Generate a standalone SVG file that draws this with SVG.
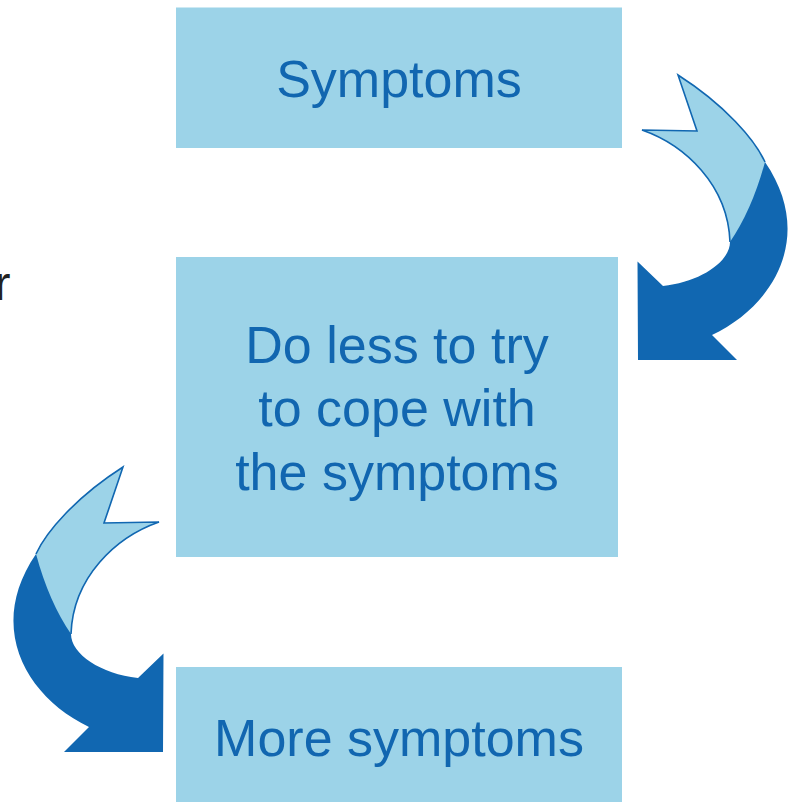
<svg xmlns="http://www.w3.org/2000/svg" width="796" height="802" viewBox="0 0 796 802">
<style>
.box{fill:#9cd3e8;}
.lbl{font-family:"Liberation Sans",Arial,sans-serif;font-size:52px;fill:#1166b0;text-anchor:middle;}
.dark{fill:#1167b1;}
.light{fill:#9cd3e8;}
.edge{fill:none;stroke:#1167b1;stroke-width:1.6;stroke-linejoin:miter;}
</style>
<defs>
<g id="curvedArrow">
<path class="dark" d="M678,75 L697,131 L642,130 C685,145 728,185 730,242 C730,262 700,282 663,286 L637.5,261.5 L638,360 L737,360 L712,335 C775,305 815,235 765,162 C755,140 725,105 678,75 Z"/>
<path class="light" d="M765,162 Q752,210 730,242 C728,185 685,145 642,130 L697,131 L678,75 C725,105 755,140 765,162 Z"/>
<path class="edge" d="M765,162 C755,140 725,105 678,75 L697,131 L642,130 C685,145 728,185 730,242"/>
</g>
</defs>
<text x="-5.5" y="300" font-family="Liberation Sans, Arial, sans-serif" font-size="48" fill="#222222">r</text>
<g id="node-symptoms">
<rect class="box" x="176" y="7.5" width="446" height="140.5"/>
<text class="lbl" x="399" y="97">Symptoms</text>
</g>
<g id="node-do-less">
<rect class="box" x="176" y="257" width="442" height="300"/>
<text class="lbl" x="397" y="362.5">Do less to try</text>
<text class="lbl" x="397" y="426">to cope with</text>
<text class="lbl" x="397" y="489.5">the symptoms</text>
</g>
<g id="node-more-symptoms">
<rect class="box" x="176" y="667" width="446" height="135"/>
<text class="lbl" x="399" y="756">More symptoms</text>
</g>
<g id="connectors">
<use href="#curvedArrow"/>
<use href="#curvedArrow" transform="translate(801,392) scale(-1,1)"/>
</g>
</svg>
